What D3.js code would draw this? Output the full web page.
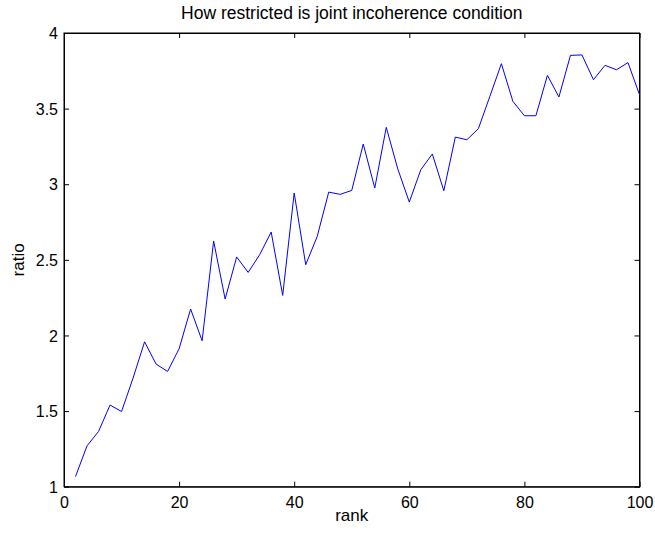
<!DOCTYPE html>
<html>
<head>
<meta charset="utf-8">
<script src="https://cdn.jsdelivr.net/npm/d3@7"></script>
<style>
  html, body { margin: 0; padding: 0; background: #fff; }
  svg { display: block; font-family: "Liberation Sans", Arial, Helvetica, sans-serif; }
</style>
</head>
<body>
<svg id="chart" width="655" height="533"></svg>
<script>
const ranks = [2,4,6,8,10,12,14,16,18,20,22,24,26,28,30,32,34,36,38,40,
               42,44,46,48,50,52,54,56,58,60,62,64,66,68,70,72,74,76,78,80,
               82,84,86,88,90,92,94,96,98,100];
const ratios = [1.067,1.270,1.365,1.540,1.497,1.718,1.958,1.811,1.762,1.912,
                2.175,1.965,2.624,2.241,2.519,2.417,2.534,2.684,2.265,2.942,
                2.468,2.655,2.948,2.933,2.959,3.266,2.975,3.376,3.101,2.882,
                3.096,3.200,2.957,3.312,3.294,3.367,3.581,3.797,3.548,3.453,
                3.453,3.720,3.577,3.852,3.855,3.691,3.786,3.757,3.804,3.592];
const xTicks = [0,20,40,60,80,100];
const yTicks = [1,1.5,2,2.5,3,3.5,4];
const xDomain = [0,100];
const yDomain = [1,4];
const titleText = "How restricted is joint incoherence condition";
const xLabel = "rank";
const yLabel = "ratio";

(function () {
const margin = {left: 64, right: 15.5, top: 33, bottom: 46.3};
const W = 655, H = 533;
const svg = d3.select("#chart");
const x = d3.scaleLinear().domain(xDomain).range([margin.left, W - margin.right]);
const y = d3.scaleLinear().domain(yDomain).range([H - margin.bottom, margin.top]);

const tickFs = 16;
const labelFs = 17;
const titleFs = 17.5;
const tickLen = 5;

svg.append("rect")
  .attr("x", x(xDomain[0])).attr("y", y(yDomain[1]))
  .attr("width", x(xDomain[1]) - x(xDomain[0])).attr("height", y(yDomain[0]) - y(yDomain[1]))
  .attr("fill", "none").attr("stroke", "#000").attr("stroke-width", 1);

const gBottom = svg.append("g").attr("transform", `translate(0,${y(yDomain[0])})`)
  .call(d3.axisBottom(x).tickValues(xTicks).tickSize(-tickLen).tickPadding(10).tickSizeOuter(0).tickFormat(d3.format("d")));
const gTop = svg.append("g").attr("transform", `translate(0,${y(yDomain[1])})`)
  .call(d3.axisTop(x).tickValues(xTicks).tickSize(-tickLen).tickSizeOuter(0).tickFormat(""));
const gLeft = svg.append("g").attr("transform", `translate(${x(xDomain[0])},0)`)
  .call(d3.axisLeft(y).tickValues(yTicks).tickSize(-tickLen).tickPadding(6).tickSizeOuter(0).tickFormat(d => String(d)));
const gRight = svg.append("g").attr("transform", `translate(${x(xDomain[1])},0)`)
  .call(d3.axisRight(y).tickValues(yTicks).tickSize(-tickLen).tickSizeOuter(0).tickFormat(""));

[gBottom, gTop, gLeft, gRight].forEach(g => {
  g.select(".domain").attr("stroke", "#000").attr("stroke-width", 1);
  g.selectAll(".tick line").attr("stroke", "#000").attr("stroke-width", 1);
  g.selectAll("text").attr("fill", "#000").style("font-size", tickFs + "px")
    .style("font-family", '"Liberation Sans", Arial, sans-serif');
});
gBottom.selectAll(".tick text").attr("dy", "0.71em");
gLeft.selectAll(".tick text").attr("dy", "0.35em");

const line = d3.line().x((d, i) => x(ranks[i])).y(d => y(d));
svg.append("path").datum(ratios)
  .attr("d", line)
  .attr("fill", "none").attr("stroke", "#0000ff").attr("stroke-width", 1);

const cx = (x(xDomain[0]) + x(xDomain[1])) / 2;
svg.append("text").attr("x", cx).attr("y", 19.3)
  .attr("text-anchor", "middle").style("font-size", titleFs + "px").text(titleText);
svg.append("text").attr("x", cx).attr("y", 520.5)
  .attr("text-anchor", "middle").style("font-size", labelFs + "px").text(xLabel);
svg.append("text").attr("transform", `translate(23.5,${(y(yDomain[0]) + y(yDomain[1])) / 2}) rotate(-90)`)
  .attr("text-anchor", "middle").style("font-size", labelFs + "px").text(yLabel);
})();
</script>
</body>
</html>
